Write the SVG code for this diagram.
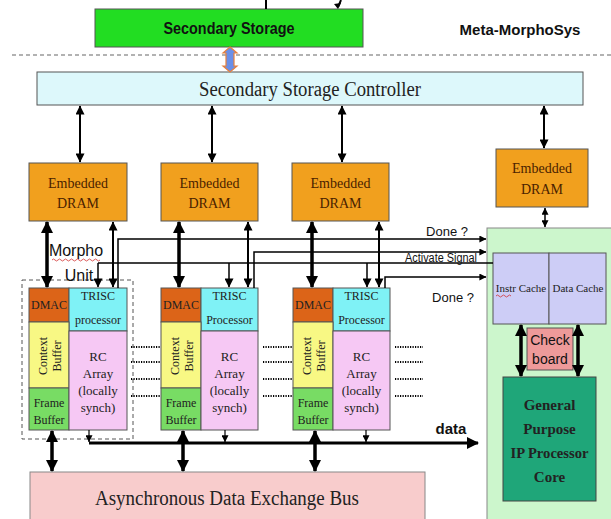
<svg xmlns="http://www.w3.org/2000/svg" width="611" height="519" viewBox="0 0 611 519">
<defs>
<marker id="ab" viewBox="0 0 12 12" markerUnits="userSpaceOnUse" markerWidth="12" markerHeight="12" refX="11" refY="6" orient="auto-start-reverse"><path d="M0,0 L12,6 L0,12 z" fill="#000"/></marker>
<marker id="am" viewBox="0 0 10 10" markerUnits="userSpaceOnUse" markerWidth="10" markerHeight="9" refX="9.5" refY="5" orient="auto-start-reverse"><path d="M0,0 L10,5 L0,10 z" fill="#000"/></marker>
<marker id="as" viewBox="0 0 10 10" markerUnits="userSpaceOnUse" markerWidth="8" markerHeight="7" refX="9.5" refY="5" orient="auto-start-reverse"><path d="M0,0 L10,5 L0,10 z" fill="#000"/></marker>
</defs>
<style>
.sf{font-family:"Liberation Serif","Times New Roman",serif;fill:#222}
.ss{font-family:"Liberation Sans",Arial,sans-serif;fill:#111}
.bx{stroke:#555;stroke-width:1}
.dram{fill:#f1a01e;stroke:#555;stroke-width:1}
.dt{font-family:"Liberation Serif","Times New Roman",serif;fill:#4a2200;font-size:14px;text-anchor:middle}
.ut{font-family:"Liberation Serif","Times New Roman",serif;fill:#222;font-size:12px;text-anchor:middle}
.rc{font-family:"Liberation Serif","Times New Roman",serif;fill:#222;font-size:13px;text-anchor:middle}
.dmac{fill:#dc6418}.trisc{fill:#7ff2f6}.ctx{fill:#f8f884}.frm{fill:#78dc64}.rca{fill:#f6c8f4}
.big{stroke:#000;stroke-width:3.5;fill:none;marker-start:url(#ab);marker-end:url(#ab)}
.med{stroke:#000;stroke-width:2;fill:none;marker-start:url(#am);marker-end:url(#am)}
.sig{stroke:#000;stroke-width:1.5;fill:none}
.dot{stroke:#000;stroke-width:2;stroke-dasharray:1.2 1.3;fill:none}
</style>
<rect width="611" height="519" fill="#fff"/>

<g id="secondary-storage">
<rect x="95" y="9" width="268" height="38" fill="#22dd22" stroke="#555"/>
<text class="ss" x="229" y="34" font-size="16" font-weight="bold" text-anchor="middle" textLength="131" lengthAdjust="spacingAndGlyphs">Secondary Storage</text>
</g>
<text id="title" class="ss" x="520" y="35" font-size="15" font-weight="bold" text-anchor="middle">Meta-MorphoSys</text>
<line x1="12" y1="55" x2="611" y2="55" stroke="#666" stroke-width="1.2" stroke-dasharray="4 3"/>

<g id="controller">
<rect x="37" y="72" width="546" height="33" fill="#ddf8fb" stroke="#555"/>
<text class="sf" x="310" y="96" font-size="20" text-anchor="middle" textLength="222" lengthAdjust="spacingAndGlyphs">Secondary Storage Controller</text>
</g>

<g id="dram1"><rect class="dram" x="29" y="163" width="98" height="58"/><text class="dt" x="78" y="188">Embedded</text><text class="dt" x="78" y="208">DRAM</text></g>
<g id="dram2"><rect class="dram" x="161" y="163" width="97" height="58"/><text class="dt" x="209.5" y="188">Embedded</text><text class="dt" x="209.5" y="208">DRAM</text></g>
<g id="dram3"><rect class="dram" x="292" y="163" width="97" height="58"/><text class="dt" x="340.5" y="188">Embedded</text><text class="dt" x="340.5" y="208">DRAM</text></g>
<g id="dram4"><rect class="dram" x="496" y="149" width="92" height="58"/><text class="dt" x="542" y="173">Embedded</text><text class="dt" x="542" y="194">DRAM</text></g>

<g id="ip-panel">
<rect x="487" y="228" width="130" height="296" fill="#ccf6cc" stroke="#888"/>
<rect x="493" y="253" width="56" height="71" fill="#cdcdf6" stroke="#555"/>
<rect x="549" y="253" width="57" height="71" fill="#cdcdf6" stroke="#555"/>
<text class="sf" x="521" y="292" font-size="11" text-anchor="middle">Instr Cache</text>
<path d="M496,296 q1.5,-2 3,0 t3,0 t3,0 t3,0 t3,0" stroke="#d03030" stroke-width="0.8" fill="none"/>
<text class="sf" x="578" y="292" font-size="11" text-anchor="middle">Data Cache</text>
</g>
<g id="checkboard">
<rect x="527" y="328" width="46" height="42" fill="#ee9a9a" stroke="#555"/>
<text class="ss" x="550" y="345" font-size="14" text-anchor="middle" fill="#552222">Check</text>
<text class="ss" x="550" y="364" font-size="14" text-anchor="middle" fill="#552222">board</text>
</g>
<g id="gp-core">
<rect x="503" y="377" width="93" height="124" fill="#1fa679" stroke="#444"/>
<text class="sf" x="549.5" y="410" font-size="15" font-weight="bold" text-anchor="middle" fill="#1a1a1a">General</text>
<text class="sf" x="549.5" y="434" font-size="15" font-weight="bold" text-anchor="middle" fill="#1a1a1a">Purpose</text>
<text class="sf" x="549.5" y="458" font-size="15" font-weight="bold" text-anchor="middle" fill="#1a1a1a" textLength="78" lengthAdjust="spacingAndGlyphs">IP Processor</text>
<text class="sf" x="549.5" y="482" font-size="15" font-weight="bold" text-anchor="middle" fill="#1a1a1a">Core</text>
</g>

<g id="unit1">
<rect class="bx dmac" x="29" y="288" width="40" height="34"/>
<rect class="bx trisc" x="69" y="288" width="58" height="43"/>
<rect class="bx ctx" x="29" y="322" width="40" height="66"/>
<rect class="bx frm" x="29" y="388" width="40" height="42"/>
<rect class="bx rca" x="69" y="331" width="58" height="99"/>
<text class="ut" x="49" y="309">DMAC</text>
<text class="ut" x="98" y="300">TRISC</text>
<text class="ut" x="98" y="324">processor</text>
<text class="ut" transform="translate(47,356) rotate(-90)">Context</text>
<text class="ut" transform="translate(61,356) rotate(-90)">Buffer</text>
<text class="ut" x="49" y="407">Frame</text>
<text class="ut" x="49" y="424">Buffer</text>
<text class="rc" x="98" y="361">RC</text>
<text class="rc" x="98" y="378">Array</text>
<text class="rc" x="98" y="395">(locally</text>
<text class="rc" x="98" y="412">synch)</text>
<rect x="22" y="280" width="111" height="159" fill="none" stroke="#555" stroke-width="1" stroke-dasharray="4 3"/>
<text class="ss" x="76" y="256" font-size="16" text-anchor="middle">Morpho</text>
<path d="M52,260 q1.5,-2 3,0 t3,0 t3,0 t3,0 t3,0 t3,0 t3,0 t3,0 t3,0 t3,0 t3,0 t3,0 t3,0 t3,0 t3,0 t3,0" stroke="#d03030" stroke-width="0.8" fill="none"/>
<text class="ss" x="79" y="281" font-size="16" text-anchor="middle">Unit</text>
</g>

<g id="unit2">
<rect class="bx dmac" x="161" y="288" width="40" height="34"/>
<rect class="bx trisc" x="201" y="288" width="57" height="43"/>
<rect class="bx ctx" x="161" y="322" width="40" height="66"/>
<rect class="bx frm" x="161" y="388" width="40" height="42"/>
<rect class="bx rca" x="201" y="331" width="57" height="99"/>
<text class="ut" x="181" y="309">DMAC</text>
<text class="ut" x="229.5" y="300">TRISC</text>
<text class="ut" x="229.5" y="324">Processor</text>
<text class="ut" transform="translate(179,356) rotate(-90)">Context</text>
<text class="ut" transform="translate(193,356) rotate(-90)">Buffer</text>
<text class="ut" x="181" y="407">Frame</text>
<text class="ut" x="181" y="424">Buffer</text>
<text class="rc" x="229.5" y="361">RC</text>
<text class="rc" x="229.5" y="378">Array</text>
<text class="rc" x="229.5" y="395">(locally</text>
<text class="rc" x="229.5" y="412">synch)</text>
</g>

<g id="unit3">
<rect class="bx dmac" x="293" y="288" width="40" height="34"/>
<rect class="bx trisc" x="333" y="288" width="57" height="43"/>
<rect class="bx ctx" x="293" y="322" width="40" height="66"/>
<rect class="bx frm" x="293" y="388" width="40" height="42"/>
<rect class="bx rca" x="333" y="331" width="57" height="99"/>
<text class="ut" x="313" y="309">DMAC</text>
<text class="ut" x="361.5" y="300">TRISC</text>
<text class="ut" x="361.5" y="324">Processor</text>
<text class="ut" transform="translate(311,356) rotate(-90)">Context</text>
<text class="ut" transform="translate(325,356) rotate(-90)">Buffer</text>
<text class="ut" x="313" y="407">Frame</text>
<text class="ut" x="313" y="424">Buffer</text>
<text class="rc" x="361.5" y="361">RC</text>
<text class="rc" x="361.5" y="378">Array</text>
<text class="rc" x="361.5" y="395">(locally</text>
<text class="rc" x="361.5" y="412">synch)</text>
</g>

<g id="bus">
<rect x="30" y="472" width="395" height="52" fill="#f8cccc" stroke="#888"/>
<text class="sf" x="227" y="505" font-size="20" text-anchor="middle" textLength="264" lengthAdjust="spacingAndGlyphs">Asynchronous Data Exchange Bus</text>
</g>

<g id="connectors">
<line x1="266" y1="0" x2="266" y2="9" stroke="#000" stroke-width="2"/>
<path d="M341,0 L338,7" stroke="#000" stroke-width="2"/>
<path d="M334,4 L338,9 L341,3 z" fill="#000"/>
<polygon points="230,47 237,53 234,53 234,66 237,66 230,72 223,66 226,66 226,53 223,53" fill="#6a8fe8" stroke="#e8803a" stroke-width="1.2"/>
<line class="med" x1="80" y1="106" x2="80" y2="162"/>
<line class="med" x1="212" y1="106" x2="212" y2="162"/>
<line class="med" x1="342" y1="106" x2="342" y2="162"/>
<line class="med" x1="544" y1="106" x2="544" y2="148"/>
<line x1="545" y1="208" x2="545" y2="227" stroke="#000" stroke-width="1.5" marker-start="url(#as)" marker-end="url(#as)"/>

<line class="big" x1="47" y1="222" x2="47" y2="287"/>
<line class="med" x1="113" y1="222" x2="113" y2="287"/>
<line class="big" x1="179" y1="222" x2="179" y2="287"/>
<line class="med" x1="248" y1="222" x2="248" y2="287"/>
<line class="big" x1="312" y1="222" x2="312" y2="287"/>
<line class="med" x1="379" y1="222" x2="379" y2="287"/>

<path class="sig" d="M118,288 V239 H486" marker-end="url(#as)"/>
<path class="sig" d="M254,288 V252 H486" marker-end="url(#as)"/>
<path class="sig" d="M98,263 H493"/>
<line class="sig" x1="98" y1="263" x2="98" y2="287" marker-end="url(#am)"/>
<line class="sig" x1="229" y1="263" x2="229" y2="287" marker-end="url(#am)"/>
<line class="sig" x1="367" y1="263" x2="367" y2="287" marker-end="url(#am)"/>
<path class="sig" d="M385,288 V277 H486" marker-end="url(#as)"/>
<text class="ss" x="447" y="236" font-size="13" text-anchor="middle">Done ?</text>
<text class="ss" x="441" y="262" font-size="12" text-anchor="middle" textLength="72" lengthAdjust="spacingAndGlyphs">Activate Signal</text>
<text class="ss" x="453" y="302" font-size="13" text-anchor="middle">Done ?</text>

<line class="big" x1="521" y1="325" x2="521" y2="376"/>
<line class="big" x1="578" y1="325" x2="578" y2="376"/>

<path class="dot" d="M131,347 H161 M131,362 H161 M131,379 H161 M131,396 H161"/>
<path class="dot" d="M263,347 H293 M263,362 H293 M263,379 H293 M263,396 H293"/>
<path class="dot" d="M395,347 H423 M395,362 H423 M395,379 H423 M395,396 H423"/>

<path d="M89,443 H478" stroke="#000" stroke-width="3" fill="none" marker-end="url(#ab)"/>
<line x1="89" y1="430" x2="89" y2="442" stroke="#000" stroke-width="1.2" marker-end="url(#as)"/>
<line x1="225" y1="430" x2="225" y2="442" stroke="#000" stroke-width="1.2" marker-end="url(#as)"/>
<line x1="366" y1="430" x2="366" y2="442" stroke="#000" stroke-width="1.2" marker-end="url(#as)"/>
<text class="ss" x="451" y="434" font-size="15" font-weight="bold" text-anchor="middle">data</text>

<line class="big" x1="52" y1="431" x2="52" y2="471"/>
<line class="big" x1="183" y1="431" x2="183" y2="471"/>
<line class="big" x1="315" y1="431" x2="315" y2="471"/>
</g>
</svg>
